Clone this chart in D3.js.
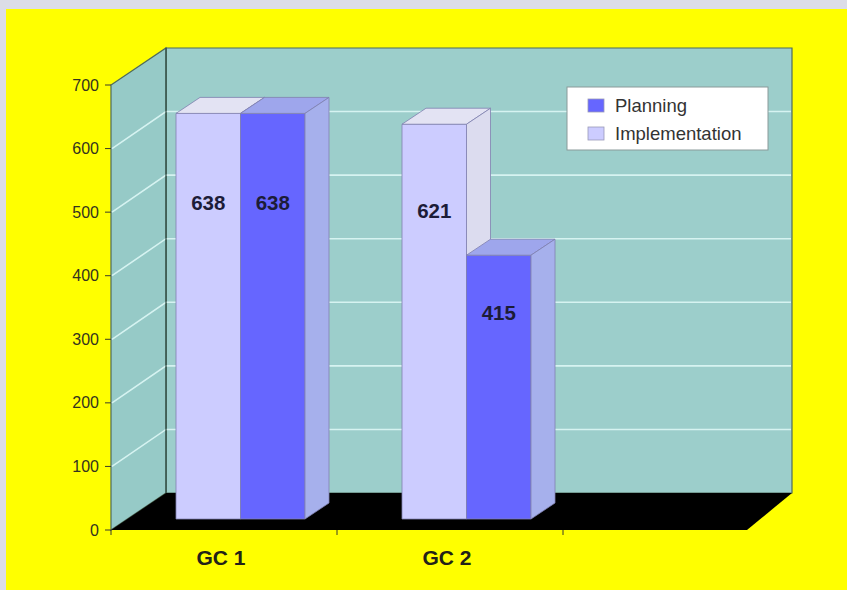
<!DOCTYPE html>
<html>
<head>
<meta charset="utf-8">
<script src="https://cdn.jsdelivr.net/npm/d3@7/dist/d3.min.js"></script>
<style>
  html, body { margin: 0; padding: 0; background: #dcdde7; }
  svg { display: block; }
  text { font-family: "Liberation Sans", Arial, Helvetica, sans-serif; }
</style>
</head>
<body>
<svg id="chart" width="847" height="590"></svg>
<script>
// ---- data ----
const categories = ["GC 1", "GC 2"];
const seriesNames = ["Implementation", "Planning"];
const implementation = [638, 621];
const planning = [638, 415];
const yTicks = [0, 100, 200, 300, 400, 500, 600, 700];
const legendOrder = ["Planning", "Implementation"];

// ---- styling ----
const colors = {
  Implementation: { front: "#ccccff", top: "#e3e3f3", side: "#dcdcef" },
  Planning: { front: "#6666ff", top: "#9ea6ec", side: "#a6b0ec" }
};

const svg = d3.select("#chart");
const W = 847, H = 590;

// yellow chart area
svg.append("rect").attr("x", 6).attr("y", 9).attr("width", W - 6).attr("height", H - 9).attr("fill", "#ffff00");

// value scale on the front plane
const y = d3.scaleLinear().domain([0, 700]).range([530, 85]);
// depth of the walls / floor and position of the bars inside it
const wallDepth = { dx: 55, dy: -37 };
const barOffset = { dx: 16.5, dy: -11 };
const barDepth = { dx: 24, dy: -16 };

// category bands along the front edge
const x = d3.scaleBand().domain(categories).range([111, 563]);
const xSub = d3.scaleBand().domain(seriesNames).range([48.5, 177.5]);

const frontLeft = 111, frontRight = 747;
const backLeft = frontLeft + wallDepth.dx, backRight = 792;
const y0 = y(0), yTop = y(700);

const line = d3.line();

// back wall
svg.append("path")
  .attr("d", line([[backLeft, yTop + wallDepth.dy], [backRight, yTop + wallDepth.dy], [backRight, y0 + wallDepth.dy], [backLeft, y0 + wallDepth.dy]]) + "Z")
  .attr("fill", "#9ccecb").attr("stroke", "#4f6b5c").attr("stroke-width", 1.2);

// left wall
svg.append("path")
  .attr("d", line([[frontLeft, yTop], [backLeft, yTop + wallDepth.dy], [backLeft, y0 + wallDepth.dy], [frontLeft, y0]]) + "Z")
  .attr("fill", "#96cac7").attr("stroke", "#4f6b5c").attr("stroke-width", 1.2);

// gridlines across left and back walls
const grid = svg.append("g").attr("fill", "none").attr("stroke", "#d6f3f1").attr("stroke-width", 1.6);
yTicks.filter(v => v > 0 && v < 700).forEach(v => {
  grid.append("path").attr("d", line([[frontLeft + 1, y(v)], [backLeft, y(v) + wallDepth.dy], [backRight - 1, y(v) + wallDepth.dy]]));
});

// corner edge between walls
svg.append("line")
  .attr("x1", backLeft).attr("x2", backLeft)
  .attr("y1", yTop + wallDepth.dy).attr("y2", y0 + wallDepth.dy)
  .attr("stroke", "#35524a").attr("stroke-width", 1.3);

// floor
svg.append("path")
  .attr("d", line([[frontLeft, y0], [backLeft, y0 + wallDepth.dy], [backRight, y0 + wallDepth.dy], [frontRight, y0]]) + "Z")
  .attr("fill", "#000000");

// ---- bars ----
const barsG = svg.append("g");
function drawBox(x0, w, v, c) {
  const bx = x0 + barOffset.dx;
  const base = y(0) + barOffset.dy;
  const top = y(v) + barOffset.dy;
  const g = barsG.append("g").attr("stroke", "#8080b0").attr("stroke-width", 0.8).attr("stroke-linejoin", "round");
  // front
  g.append("path").attr("d", line([[bx, top], [bx + w, top], [bx + w, base], [bx, base]]) + "Z").attr("fill", c.front);
  // top
  g.append("path").attr("d", line([[bx, top], [bx + w, top], [bx + w + barDepth.dx, top + barDepth.dy], [bx + barDepth.dx, top + barDepth.dy]]) + "Z").attr("fill", c.top);
  // side
  g.append("path").attr("d", line([[bx + w, top], [bx + w + barDepth.dx, top + barDepth.dy], [bx + w + barDepth.dx, base + barDepth.dy], [bx + w, base]]) + "Z").attr("fill", c.side);
}

const seriesValues = { Implementation: implementation, Planning: planning };
categories.forEach((cat, i) => {
  seriesNames.forEach(s => {
    drawBox(x(cat) + xSub(s), xSub.bandwidth(), seriesValues[s][i], colors[s]);
  });
});

// value labels on the bar fronts
categories.forEach((cat, i) => {
  seriesNames.forEach(s => {
    const v = seriesValues[s][i];
    svg.append("text")
      .attr("x", x(cat) + xSub(s) + barOffset.dx + xSub.bandwidth() / 2)
      .attr("y", y(v * 0.78) + barOffset.dy + 7)
      .attr("text-anchor", "middle")
      .attr("font-size", 20.5).attr("font-weight", "bold")
      .attr("fill", "#1c1c38")
      .text(v);
  });
});

// ---- value axis ----
const yAxis = svg.append("g");
yTicks.forEach(v => {
  yAxis.append("line").attr("x1", frontLeft - 6).attr("x2", frontLeft).attr("y1", y(v)).attr("y2", y(v))
    .attr("stroke", "#3a3a2a").attr("stroke-width", 1);
  yAxis.append("text").attr("x", frontLeft - 12).attr("y", y(v) + 5.5)
    .attr("text-anchor", "end").attr("font-size", 16).attr("fill", "#33331f").text(v);
});

// ---- category axis ----
const xAxis = svg.append("g");
[x.range()[0], ...categories.map(c => x(c) + x.bandwidth())].forEach(px => {
  xAxis.append("line").attr("x1", px).attr("x2", px).attr("y1", y0).attr("y2", y0 + 5)
    .attr("stroke", "#3a3a2a").attr("stroke-width", 1);
});
categories.forEach(cat => {
  xAxis.append("text").attr("x", x(cat) + x.bandwidth() / 2 - 3).attr("y", y0 + 35)
    .attr("text-anchor", "middle").attr("font-size", 21).attr("font-weight", "bold")
    .attr("fill", "#222218").text(cat);
});

// ---- legend ----
const legend = svg.append("g").attr("transform", "translate(567,87)");
legend.append("rect").attr("width", 201).attr("height", 63).attr("fill", "#ffffff")
  .attr("stroke", "#8a9a9a").attr("stroke-width", 1);
legendOrder.forEach((name, i) => {
  const gy = 12 + i * 28;
  legend.append("rect").attr("x", 21).attr("y", gy).attr("width", 16).attr("height", 13)
    .attr("fill", colors[name].front).attr("stroke", "#9a9ab8").attr("stroke-width", 0.8);
  legend.append("text").attr("x", 48).attr("y", gy + 12.5).attr("font-size", 18.5)
    .attr("fill", "#333333").text(name);
});
</script>
</body>
</html>
